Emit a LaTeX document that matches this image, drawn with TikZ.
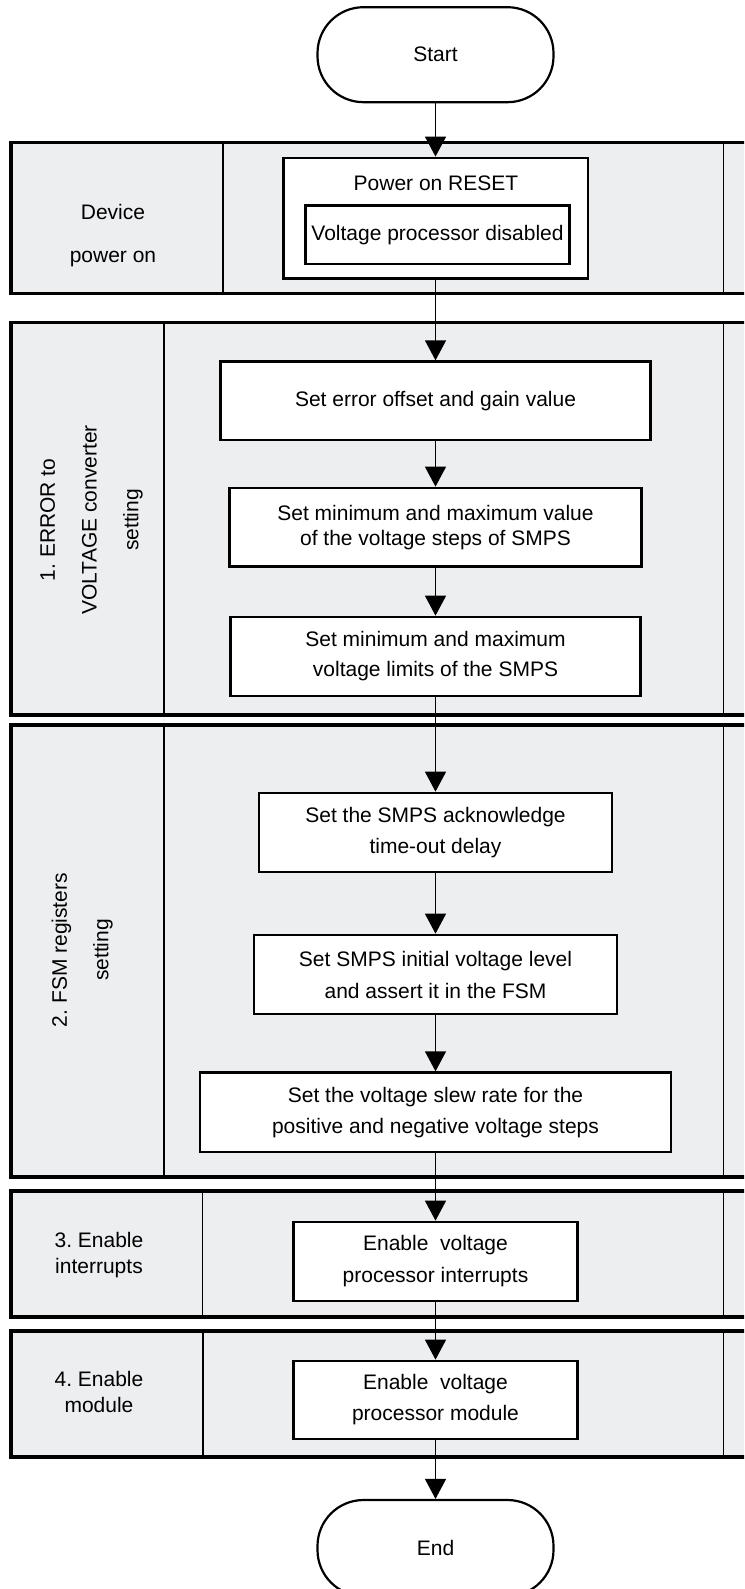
\documentclass[tikz,border=0pt]{standalone}
\usepackage{fontspec}
\setmainfont{Liberation Sans}
\usetikzlibrary{arrows.meta}
\definecolor{bandgray}{RGB}{237,238,240}
\frenchspacing
\begin{document}
\begin{tikzpicture}[x=1pt,y=-1pt,
  txt/.style={font=\fontsize{21}{31}\selectfont, align=center, inner sep=0pt},
  band/.style={draw, line width=3.7pt, fill=bandgray},
  divider/.style={line width=1.3pt},
  stepbox/.style={draw, line width=2.7pt, fill=white, txt},
  term/.style={draw, line width=2.2pt, rounded corners=46pt, minimum width=236pt, fill=white, txt},
  flow/.style={line width=1.3pt, -{Triangle[length=20pt,width=21pt]}}]
\useasboundingbox (0,0) rectangle (744,1589);
\clip (0,0) rectangle (744,1589);
\fill[white] (0,0) rectangle (744,1589);

% bands
\draw[band] (11.3,142.5) rectangle (800,293.5);
\draw[band] (11.3,322.5) rectangle (800,715);
\draw[band] (11.3,725) rectangle (800,1177.3);
\draw[band] (11.3,1190.7) rectangle (800,1317);
\draw[band] (11.3,1331) rectangle (800,1457);

% dividers
\draw[divider] (223,142.5) -- (223,293.5);
\draw[divider] (723.3,142.5) -- (723.3,293.5);
\draw[divider] (164,322.5) -- (164,715);
\draw[divider] (723.3,322.5) -- (723.3,715);
\draw[divider] (164,725) -- (164,1177.3);
\draw[divider] (723.3,725) -- (723.3,1177.3);
\draw[divider] (202.6,1190.7) -- (202.6,1317);
\draw[divider] (723.3,1190.7) -- (723.3,1317);
\draw[divider] (203,1331) -- (203,1457);
\draw[divider] (723.3,1331) -- (723.3,1457);

% lane labels
\node[txt, font=\fontsize{21}{43}\selectfont] (l0) at (113,235.5) {Device\\power on};
\node[txt, font=\fontsize{21}{41.7}\selectfont, rotate=90] (l1) at (91.4,520) {1. ERROR to\\VOLTAGE converter\\setting};
\node[txt, font=\fontsize{21}{41.7}\selectfont, rotate=90] (l2) at (82.2,950) {2. FSM registers\\setting};
\node[txt, font=\fontsize{21}{26}\selectfont] (l3) at (99,1255) {3. Enable\\interrupts};
\node[txt, font=\fontsize{21}{26}\selectfont] (l4) at (99,1392) {4. Enable\\module};

% terminals
\node[term, minimum height=95pt] (start) at (435.5,54.7) {Start};
\node[term, minimum height=96pt] (end) at (435.5,1548) {End};

% power on box
\node[stepbox, minimum width=304.7pt, minimum height=120.7pt] (pwr) at (435.5,218.3) {};
\node[txt] (pwrtxt) at (436,183) {Power on RESET};
\node[stepbox, minimum width=263.9pt, minimum height=58.5pt] (vpd) at (437.5,234.7) {Voltage processor disabled};

% steps
\node[stepbox, minimum width=429.4pt, minimum height=78.3pt] (b1) at (435.5,400.85) {Set error offset and gain value};
\node[stepbox, font=\fontsize{21}{25}\selectfont, minimum width=411.8pt, minimum height=78.7pt] (b2) at (435.5,527.35) {Set minimum and maximum value\\of the voltage steps of SMPS};
\node[stepbox, font=\fontsize{21}{30}\selectfont, minimum width=410pt, minimum height=79pt] (b3) at (435.5,656.5) {Set minimum and maximum\\voltage limits of the SMPS};
\node[stepbox, minimum width=353pt, minimum height=79pt] (b4) at (435.5,832.5) {Set the SMPS acknowledge\\time-out delay};
\node[stepbox, font=\fontsize{21}{32}\selectfont, minimum width=363pt, minimum height=79pt] (b5) at (435.5,974.5) {Set SMPS initial voltage level\\and assert it in the FSM};
\node[stepbox, minimum width=471pt, minimum height=79.3pt] (b6) at (435.5,1112.35) {Set the voltage slew rate for the\\positive and negative voltage steps};
\node[stepbox, font=\fontsize{21}{32}\selectfont, minimum width=284.5pt, minimum height=79pt] (b7) at (435.5,1261.5) {Enable\ \ voltage\\processor interrupts};
\node[stepbox, minimum width=284.5pt, minimum height=78pt] (b8) at (435.5,1400) {Enable\ \ voltage\\processor module};

% connectors
\draw[flow] (start) -- (pwr);
\draw[flow] (pwr) -- (b1);
\draw[flow] (b1) -- (b2);
\draw[flow] (b2) -- (b3);
\draw[flow] (b3) -- (b4);
\draw[flow] (b4) -- (b5);
\draw[flow] (b5) -- (b6);
\draw[flow] (b6) -- (b7);
\draw[flow] (b7) -- (b8);
\draw[flow] (b8) -- (end);
\end{tikzpicture}
\end{document}
